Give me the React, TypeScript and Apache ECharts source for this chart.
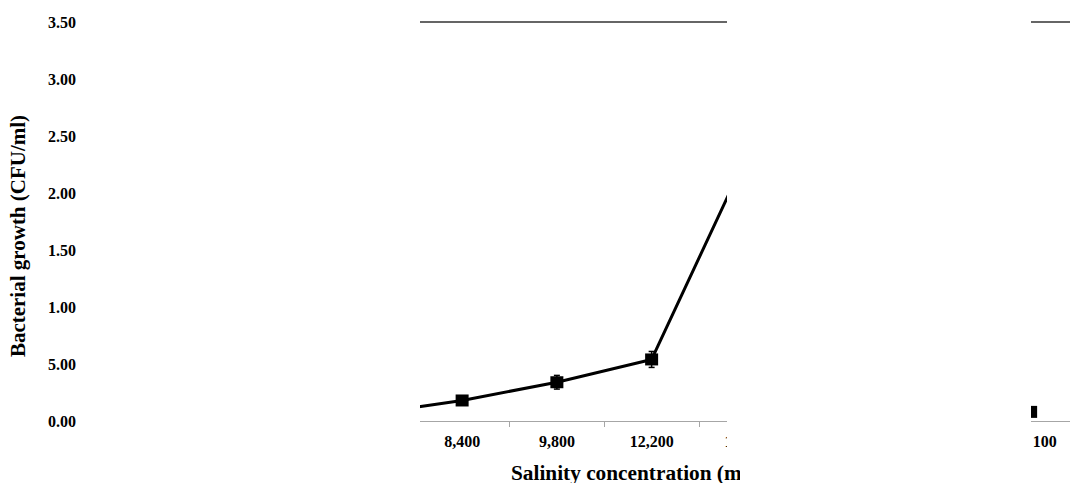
import React, { useEffect, useRef } from "react";
import * as echarts from "echarts";

// Categories of salinity concentration (some are hidden behind white panels in the reference)
const categories = ["7,000", "8,400", "9,800", "12,200", "14,000", "16,000", "18,000", "100"];
// Bacterial growth values (CFU/ml)
const growth: (number | null)[] = [0.06, 0.18, 0.34, 0.54, 2.32, null, null, 0.08];
// Error bar half-lengths
const errors: (number | null)[] = [0.02, 0.02, 0.06, 0.07, 0.08, null, null, 0.02];
// Y tick labels as printed (0.50 is printed as "5.00" in the original)
const yTickLabels = ["0.00", "5.00", "1.00", "1.50", "2.00", "2.50", "3.00", "3.50"];

const yTitle = "Bacterial growth (CFU/ml)";
const xTitle = "Salinity concentration (mg/L)";

const FONT = "'Liberation Serif', 'Times New Roman', serif";

export default function App() {
  const ref = useRef<HTMLDivElement>(null);
  useEffect(() => {
    if (!ref.current) return;
    const chart = echarts.init(ref.current, undefined, { renderer: "svg" });
    const labelStyle = { fontFamily: FONT, fontWeight: "bold" as const, fontSize: 16, color: "#000" };
    const lastIdx = categories.length - 1;
    chart.setOption({
      animation: false,
      backgroundColor: "#fff",
      grid: { left: 320, top: 22, width: 758, height: 399 },
      xAxis: [
        {
          type: "category",
          data: categories,
          position: "bottom",
          boundaryGap: true,
          axisLine: { lineStyle: { color: "#a6a6a6", width: 1 } },
          axisTick: { show: true, length: 6, lineStyle: { color: "#a6a6a6" } },
          axisLabel: {
            ...labelStyle,
            margin: 12,
            interval: 0,
            formatter: (v: string, i: number) => (i === lastIdx ? `{r|${v}}` : v),
            rich: {
              r: { ...labelStyle, padding: [0, 0, 0, 28] },
            },
          },
          splitLine: { show: false },
        },
        {
          type: "category",
          data: categories,
          position: "top",
          boundaryGap: true,
          axisLine: { lineStyle: { color: "#333", width: 1.5 } },
          axisTick: { show: false },
          axisLabel: { show: false },
          splitLine: { show: false },
        },
      ],
      yAxis: {
        type: "value",
        min: 0,
        max: 3.5,
        interval: 0.5,
        axisLine: { show: false },
        axisTick: { show: false },
        splitLine: { show: false },
        axisLabel: {
          ...labelStyle,
          margin: 244,
          formatter: (v: number) => yTickLabels[Math.round(v / 0.5)] ?? "",
        },
      },
      series: [
        {
          type: "line",
          xAxisIndex: 0,
          data: growth,
          symbol: "rect",
          symbolSize: [13, 12],
          lineStyle: { color: "#000", width: 3 },
          itemStyle: { color: "#000" },
          z: 3,
        },
        {
          type: "custom",
          xAxisIndex: 0,
          data: growth.map((g, i) => [i, g, errors[i]]),
          z: 4,
          renderItem: (params: any, api: any) => {
            const g = api.value(1);
            const e = api.value(2);
            if (g == null || isNaN(g) || e == null || isNaN(e)) return null;
            const x = api.coord([api.value(0), g])[0];
            const top = api.coord([api.value(0), g + e])[1];
            const bot = api.coord([api.value(0), g - e])[1];
            const style = { stroke: "#000", lineWidth: 1.5 };
            return {
              type: "group",
              children: [
                { type: "line", shape: { x1: x, y1: top, x2: x, y2: bot }, style },
                { type: "line", shape: { x1: x - 3, y1: top, x2: x + 3, y2: top }, style },
                { type: "line", shape: { x1: x - 3, y1: bot, x2: x + 3, y2: bot }, style },
              ],
            };
          },
        },
      ],
      graphic: [
        {
          type: "text",
          x: 18,
          y: 236,
          rotation: Math.PI / 2,
          z: 10,
          style: {
            text: yTitle,
            fontFamily: FONT,
            fontWeight: "bold",
            fontSize: 21,
            fill: "#000",
            align: "center",
            verticalAlign: "middle",
          },
        },
        {
          type: "text",
          x: 511,
          y: 473,
          z: 10,
          style: {
            text: xTitle,
            fontFamily: FONT,
            fontWeight: "bold",
            fontSize: 21.3,
            fill: "#000",
            align: "left",
            verticalAlign: "middle",
          },
        },
        {
          type: "rect",
          z: 100,
          shape: { x: 78, y: 0, width: 342, height: 483 },
          style: { fill: "#fff" },
        },
        {
          type: "rect",
          z: 100,
          shape: { x: 727, y: 0, width: 304, height: 458 },
          style: { fill: "#fff" },
        },
        {
          type: "rect",
          z: 100,
          shape: { x: 740, y: 458, width: 291, height: 25 },
          style: { fill: "#fff" },
        },
      ],
    });
    return () => chart.dispose();
  }, []);
  return (
    <div style={{ position: "absolute", left: 0, top: 0, width: 1070, height: 483, overflow: "hidden" }}>
      <div ref={ref} style={{ width: 1080, height: 483 }} />
    </div>
  );
}
